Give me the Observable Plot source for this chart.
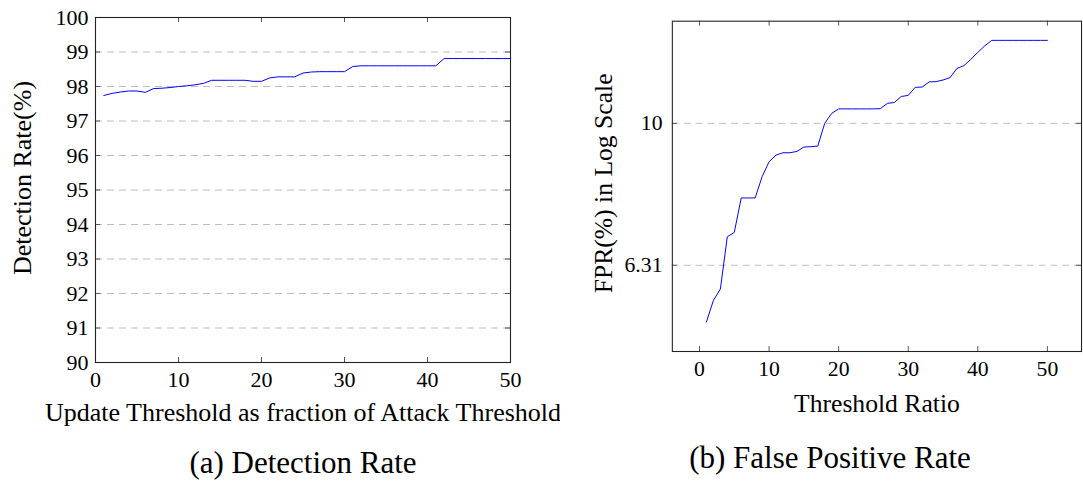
<!DOCTYPE html>
<html><head><meta charset="utf-8">
<script src="https://cdn.jsdelivr.net/npm/d3@7"></script>
<script src="https://cdn.jsdelivr.net/npm/@observablehq/plot@0.6"></script>
<style>
body{margin:0;width:1083px;height:483px;overflow:hidden;background:#fff;position:relative;font-family:"Liberation Serif",serif;}
#a,#b{position:absolute;top:0}
#a{left:0px} #b{left:590px}
.cap{position:absolute;font-size:31px;line-height:1;transform:translateX(-50%);white-space:nowrap;color:#000}
</style></head><body>
<div id="a"></div><div id="b"></div>
<div class="cap" style="left:303px;top:447px">(a) Detection Rate</div>
<div class="cap" style="left:830px;top:442px">(b) False Positive Rate</div>
<script>
const ratio = [1,2,3,4,5,6,7,8,9,10,11,12,13,14,15,16,17,18,19,20,21,22,23,24,25,26,27,28,29,30,31,32,33,34,35,36,37,38,39,40,41,42,43,44,45,46,47,48,49,50];
const detectionRate = [97.74,97.80,97.84,97.87,97.87,97.83,97.94,97.95,97.97,98.00,98.02,98.05,98.09,98.18,98.18,98.18,98.18,98.18,98.15,98.15,98.25,98.28,98.28,98.28,98.39,98.42,98.43,98.43,98.43,98.43,98.58,98.60,98.60,98.60,98.60,98.60,98.60,98.60,98.60,98.60,98.60,98.81,98.81,98.81,98.81,98.81,98.81,98.81,98.81,98.81];
const fpr = [5.25,5.63,5.84,6.92,7.02,7.85,7.85,7.85,8.41,8.83,9.02,9.09,9.09,9.13,9.26,9.27,9.29,10.00,10.33,10.48,10.48,10.48,10.48,10.48,10.48,10.49,10.67,10.70,10.91,10.95,11.24,11.25,11.44,11.45,11.51,11.60,11.95,12.06,12.31,12.59,12.86,13.09,13.09,13.09,13.09,13.09,13.09,13.09,13.09,13.09];
const xTicks = [0,10,20,30,40,50];
const detTicks = [90,91,92,93,94,95,96,97,98,99,100];
const fprTicks = [6.31,10];
const fprTickLabels = ["6.31","10"];

const detData = ratio.map((r,i)=>({x:r,y:detectionRate[i]}));
const fprData = ratio.map((r,i)=>({x:r,y:fpr[i]}));

const FONT = "Liberation Serif";
const gridStyle = {stroke:"#bdbdbd", strokeOpacity:1, strokeDasharray:"7,5", strokeWidth:1};
const tickStyle = {stroke:"#555", strokeWidth:1};

// Left chart
{
  const W=560,H=440,mL=95,mR=50,mT=17,mB=78;
  const pw=W-mL-mR, ph=H-mT-mB, tl=5;
  const chart = Plot.plot({
    width:W,height:H,marginLeft:mL,marginRight:mR,marginTop:mT,marginBottom:mB,
    style:{fontFamily:FONT,fontSize:"22px",color:"#000",background:"transparent"},
    x:{domain:[0,50]},
    y:{domain:[90,100]},
    marks:[
      Plot.gridY(detTicks.slice(1,-1),gridStyle),
      Plot.tickX(xTicks,{...tickStyle,insetTop:ph-tl}),
      Plot.tickX(xTicks,{...tickStyle,insetBottom:ph-tl}),
      Plot.tickY(detTicks,{...tickStyle,insetRight:pw-tl}),
      Plot.tickY(detTicks,{...tickStyle,insetLeft:pw-tl}),
      Plot.frame({stroke:"#222",strokeWidth:1.1}),
      Plot.line(detData,{x:"x",y:"y",stroke:"#0000ff",strokeWidth:1}),
      Plot.axisX({ticks:xTicks,tickSize:0,tickPadding:9,fontSize:22,label:null}),
      Plot.axisY({ticks:detTicks,tickSize:0,tickPadding:7,fontSize:22,label:null}),
      Plot.text(["Update Threshold as fraction of Attack Threshold"],{frameAnchor:"bottom",lineAnchor:"middle",textAnchor:"middle",dy:50,fontSize:26}),
      Plot.text(["Detection Rate(%)"],{frameAnchor:"left",textAnchor:"middle",lineAnchor:"middle",rotate:-90,dx:-73,dy:-12,fontSize:26})
    ]
  });
  document.getElementById("a").append(chart);
}

// Right chart
{
  const W=500,H=440,mL=83,mR=2,mT=21,mB=84;
  const pw=W-mL-mR, ph=H-mT-mB, tl=5;
  const chart = Plot.plot({
    width:W,height:H,marginLeft:mL,marginRight:mR,marginTop:mT,marginBottom:mB,
    style:{fontFamily:FONT,fontSize:"22px",color:"#000",background:"transparent"},
    x:{domain:[-3.9,54.9]},
    y:{type:"log",domain:[4.77,13.93]},
    marks:[
      Plot.gridY(fprTicks,gridStyle),
      Plot.tickX(xTicks,{...tickStyle,insetTop:ph-tl}),
      Plot.tickX(xTicks,{...tickStyle,insetBottom:ph-tl}),
      Plot.tickY(fprTicks,{...tickStyle,insetRight:pw-tl}),
      Plot.tickY(fprTicks,{...tickStyle,insetLeft:pw-tl}),
      Plot.frame({stroke:"#222",strokeWidth:1.1}),
      Plot.line(fprData,{x:"x",y:"y",stroke:"#0000ff",strokeWidth:1}),
      Plot.axisX({ticks:xTicks,tickSize:0,tickPadding:9,fontSize:22,label:null}),
      Plot.axisY({ticks:fprTicks,tickFormat:(d)=>fprTickLabels[fprTicks.indexOf(d)],tickSize:0,tickPadding:10,fontSize:22,label:null}),
      Plot.text(["Threshold Ratio"],{frameAnchor:"bottom",lineAnchor:"middle",textAnchor:"middle",dy:53,fontSize:26}),
      Plot.text(["FPR(%) in Log Scale"],{frameAnchor:"left",textAnchor:"middle",lineAnchor:"middle",rotate:-90,dx:-70,dy:-3,fontSize:26})
    ]
  });
  document.getElementById("b").append(chart);
}
</script>
</body></html>
